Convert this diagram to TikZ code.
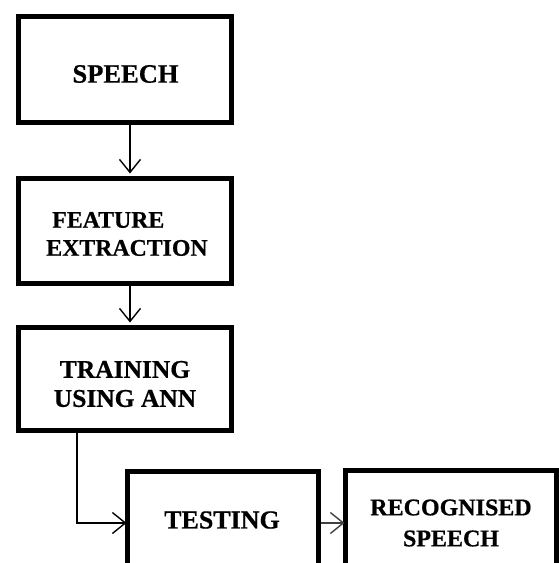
\documentclass[tikz,border=0pt]{standalone}
\usepackage{fontspec}
\setmainfont{Liberation Serif}[BoldFeatures={FakeBold=0.6}]
\usetikzlibrary{arrows.meta}
\begin{document}
\begin{tikzpicture}[x=1pt,y=-1pt,
  box/.style={draw=black, line width=5pt, rectangle, inner sep=0pt},
  lbl/.style={align=center, inner sep=0pt},
  conn/.style={line width=1.4pt, -{Straight Barb[length=13pt,width=21pt]}}]
\useasboundingbox (0,0) rectangle (559,563);
\clip (0,0) rectangle (559,563);
% boxes
\node[box, minimum width=213pt, minimum height=105.5pt] (b1) at (124.5,69.25) {};
\node[box, minimum width=213pt, minimum height=105pt] (b2) at (124.5,230.5) {};
\node[box, minimum width=213pt, minimum height=103pt] (b3) at (124.5,378.5) {};
\node[box, minimum width=191pt, minimum height=104pt] (b4) at (222.5,523) {};
\node[box, minimum width=211pt, minimum height=106pt] (b5) at (450.5,523) {};
% labels
\node[lbl, font=\fontsize{26.5}{29}\selectfont\bfseries] (t1) at (125.5,74) {SPEECH};
\node[lbl, align=left, font=\fontsize{23.8}{28}\selectfont\bfseries] (t2) at (127,234) {\hspace*{6pt}FEATURE\\EXTRACTION};
\node[lbl, font=\fontsize{25.5}{29}\selectfont\bfseries] (t3) at (125,384) {TRAINING\\USING ANN};
\node[lbl, font=\fontsize{26}{29}\selectfont\bfseries] (t4) at (222,520) {TESTING};
\node[lbl, font=\fontsize{24}{31}\selectfont\bfseries] (t5) at (451,523) {RECOGNISED\\SPEECH};
% connectors
\draw[conn] ([xshift=5.5pt]b1.south) -- ([xshift=5.5pt,yshift=2pt]b2.north);
\draw[conn] ([xshift=5.5pt]b2.south) -- ([xshift=5.5pt,yshift=2pt]b3.north);
\draw[conn] ([xshift=-47.5pt]b3.south) |- ([xshift=2pt]b4.west);
\draw[conn, draw=black!75] (b4.east) -- ([xshift=2pt]b5.west);
\end{tikzpicture}
\end{document}
